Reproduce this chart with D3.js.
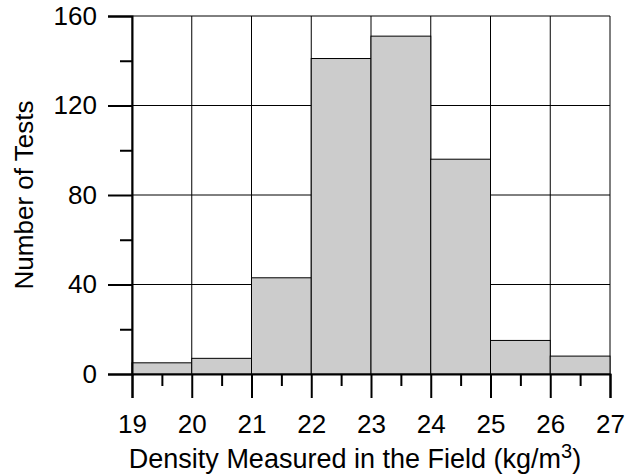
<!DOCTYPE html>
<html>
<head>
<meta charset="utf-8">
<script src="https://cdn.jsdelivr.net/npm/d3@7"></script>
<style>
  body { margin: 0; background: #fff; }
  svg { display: block; font-family: "Liberation Sans", Arial, sans-serif; }
</style>
</head>
<body>
<div id="chart"></div>
<script>
// histogram bins (lower edge, width 1) and counts
const binStarts = [19, 20, 21, 22, 23, 24, 25, 26];
const counts = [5, 7, 43, 141, 151, 96, 15, 8];
const xTicks = [19, 20, 21, 22, 23, 24, 25, 26, 27];
const xMinor = [19.5, 20.5, 21.5, 22.5, 23.5, 24.5, 25.5, 26.5];
const yTicks = [0, 40, 80, 120, 160];
const yMinor = [20, 60, 100, 140];

const width = 638, height = 476;
const margin = { top: 16, right: 28, bottom: 102, left: 132 };

const svg = d3.select("#chart").append("svg")
  .attr("width", width)
  .attr("height", height);

const x = d3.scaleLinear().domain([19, 27]).range([margin.left, width - margin.right]);
const y = d3.scaleLinear().domain([0, 160]).range([height - margin.bottom, margin.top]);

// grid
svg.append("g")
  .selectAll("line")
  .data(xTicks)
  .join("line")
  .attr("x1", d => x(d)).attr("x2", d => x(d))
  .attr("y1", y(0)).attr("y2", y(160))
  .attr("stroke", "#000").attr("stroke-width", 1);
svg.append("g")
  .selectAll("line")
  .data(yTicks.filter(d => d > 0))
  .join("line")
  .attr("x1", x(19)).attr("x2", x(27))
  .attr("y1", d => y(d)).attr("y2", d => y(d))
  .attr("stroke", "#000").attr("stroke-width", 1);

// bars
svg.append("g")
  .selectAll("rect")
  .data(binStarts)
  .join("rect")
  .attr("x", d => x(d))
  .attr("width", d => x(d + 1) - x(d))
  .attr("y", (d, i) => y(counts[i]))
  .attr("height", (d, i) => y(0) - y(counts[i]))
  .attr("fill", "#cccccc")
  .attr("stroke", "#000")
  .attr("stroke-width", 1);

// y axis
svg.append("g")
  .attr("transform", `translate(${x(19)},0)`)
  .call(d3.axisLeft(y).tickValues(yTicks).tickSize(24).tickPadding(11));
svg.append("g")
  .attr("transform", `translate(${x(19)},0)`)
  .call(d3.axisLeft(y).tickValues(yMinor).tickSize(12).tickFormat(""))
  .call(g => g.select(".domain").remove());

// x axis
svg.append("g")
  .attr("transform", `translate(0,${y(0)})`)
  .call(d3.axisBottom(x).tickValues(xTicks).tickSize(24).tickPadding(17));
svg.append("g")
  .attr("transform", `translate(0,${y(0)})`)
  .call(d3.axisBottom(x).tickValues(xMinor).tickSize(12).tickFormat(""))
  .call(g => g.select(".domain").remove());

svg.selectAll(".domain").attr("stroke-width", 2);
svg.selectAll(".tick line").attr("stroke-width", 2);
svg.selectAll(".tick text")
  .style("font-family", "'Liberation Sans', Arial, sans-serif")
  .style("font-size", "26px")
  .attr("fill", "#000");

// axis titles
svg.append("text")
  .attr("transform", `translate(33,${(y(0) + y(160)) / 2}) rotate(-90)`)
  .attr("text-anchor", "middle")
  .style("font-size", "26px")
  .text("Number of Tests");

const xt = svg.append("text")
  .attr("x", 355)
  .attr("y", 468)
  .attr("text-anchor", "middle")
  .style("font-size", "27px")
  .text("Density Measured in the Field (kg/m");
xt.append("tspan").attr("dy", -10).style("font-size", "20px").text("3");
xt.append("tspan").attr("dy", 10).text(")");
</script>
</body>
</html>
